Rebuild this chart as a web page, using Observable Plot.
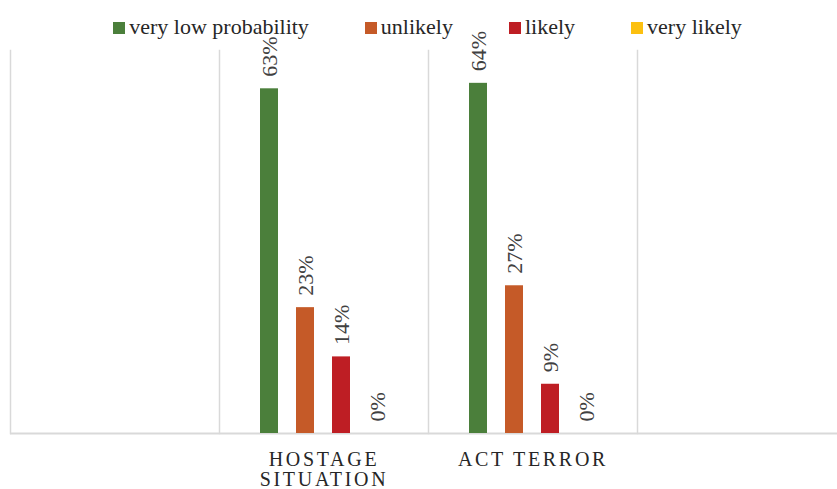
<!DOCTYPE html>
<html>
<head>
<meta charset="utf-8">
<script src="https://cdn.jsdelivr.net/npm/d3@7"></script>
<script src="https://cdn.jsdelivr.net/npm/@observablehq/plot@0.6"></script>
<style>
  html, body { margin: 0; padding: 0; background: #fff; }
  #wrap { position: relative; width: 837px; height: 489px; overflow: hidden; font-family: "Liberation Serif", "Times New Roman", Times, Tinos, "DejaVu Serif", serif; }
  #wrap svg, #wrap svg text { font-family: "Liberation Serif", "Times New Roman", Times, Tinos, "DejaVu Serif", serif !important; }
  #legend { position: absolute; top: 14px; left: 0; width: 855px; display: flex; justify-content: center; gap: 56px; font-size: 22px; color: #262626; }
  #legend .item { display: flex; align-items: center; white-space: nowrap; }
  #legend .sw { width: 12px; height: 12px; margin-right: 4px; margin-top: 2px; }
  g[aria-description="category label"] text { letter-spacing: 2.7px; }
</style>
</head>
<body>
<div id="wrap"><div id="legend"></div></div>
<script>
const categories = ["", "HOSTAGE SITUATION", "ACT TERROR", " "];
const categoryLabels = ["", "HOSTAGE\nSITUATION", "ACT TERROR", ""];
const series = ["very low probability", "unlikely", "likely", "very likely"];
const colors = ["#4b7f3b", "#c55a28", "#be1e24", "#fcc010"];
const hostageValues = [63, 23, 14, 0];
const terrorValues = [64, 27, 9, 0];

const data = [];
series.forEach((s, i) => data.push({category: categories[1], series: s, value: hostageValues[i]}));
series.forEach((s, i) => data.push({category: categories[2], series: s, value: terrorValues[i]}));
const catData = categories.map((c, i) => ({category: c, label: categoryLabels[i]}));

const chart = Plot.plot({
  width: 837,
  height: 489,
  marginLeft: 10,
  marginRight: -9,
  marginTop: 50,
  marginBottom: 56,
  style: {background: "transparent"},
  fx: {domain: categories, padding: 0, axis: null},
  x: {domain: series, paddingInner: 0.49, paddingOuter: 1.13, axis: null},
  y: {domain: [0, 70], axis: null},
  color: {domain: series, range: colors},
  marks: [
    Plot.frame({anchor: "left", stroke: "#d9d9d9", strokeWidth: 1.5}),
    Plot.ruleY([0], {stroke: "#d9d9d9", strokeWidth: 2}),
    Plot.barY(data, {fx: "category", x: "series", y: "value", fill: "series"}),
    Plot.text(data, {fx: "category", x: "series", y: "value", text: d => d.value + "%", rotate: -90, textAnchor: "start", dy: -12, fontSize: 22, fill: "#404040"}),
    Plot.text(catData, {fx: "category", text: "label", frameAnchor: "bottom", lineAnchor: "top", dy: 17.5, lineHeight: 1.03, fontSize: 20, fill: "#262626", ariaDescription: "category label"})
  ]
});
const wrap = document.getElementById("wrap");
wrap.insertBefore(chart, wrap.firstChild);

const legend = document.getElementById("legend");
series.forEach((s, i) => {
  const item = document.createElement("div");
  item.className = "item";
  const sw = document.createElement("span");
  sw.className = "sw";
  sw.style.background = colors[i];
  const t = document.createElement("span");
  t.textContent = s;
  item.appendChild(sw);
  item.appendChild(t);
  legend.appendChild(item);
});
</script>
</body>
</html>
